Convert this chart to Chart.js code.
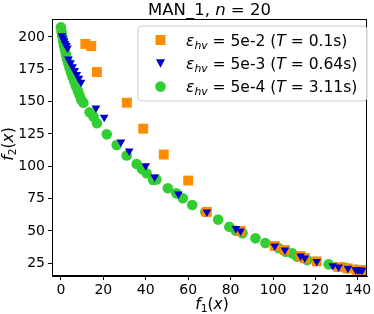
<!DOCTYPE html>
<html><head><meta charset="utf-8">
<script src="https://cdn.jsdelivr.net/npm/chart.js@4/dist/chart.umd.min.js"></script>
<style>html,body{margin:0;padding:0;background:#fff;overflow:hidden}</style>
</head><body>
<canvas id="c" width="374" height="314" style="width:374px;height:314px;display:block"></canvas>
<script>
// ---- data ----
const epsLabels = ['5e-2', '5e-3', '5e-4'];
const timeLabels = ['0.1s', '0.64s', '3.11s'];

const orangeF1 = [11.5, 14.3, 17.0, 31.1, 38.8, 48.5, 60.0, 68.8, 84.7, 100.8, 105.6, 113.0, 115.0, 120.6, 130.9, 135.3, 139.5, 140.5, 141.5, 142.5];
const orangeF2 = [194.6, 193.0, 172.9, 149.2, 129.1, 109.1, 89.0, 64.7, 50.0, 38.4, 35.3, 30.6, 29.1, 26.5, 22.1, 21.1, 20.0, 19.9, 19.8, 19.7];

const blueF1 = [0.5, 1.0, 1.5, 2.0, 2.6, 3.1, 3.5, 4.5, 5.5, 6.5, 7.5, 8.5, 9.5, 16.5, 20.4, 28.3, 32.2, 40.0, 44.2, 55.4, 68.8, 82.5, 84.7, 100.8, 105.6, 113.0, 115.0, 120.6, 128.2, 130.9, 135.3, 139.0, 140.0, 141.0, 142.0];
const blueF2 = [201, 199, 197, 195, 193.5, 191.5, 183, 180, 177, 174, 171, 168, 165, 145.1, 137.9, 118.8, 111.8, 100.5, 91.7, 78.6, 64.7, 51.9, 50.0, 38.4, 35.3, 30.6, 29.1, 26.5, 23.1, 22.1, 21.1, 20.0, 19.9, 19.8, 19.7];

const greenF1 = [0.0, 0.3, 0.6, 1.0, 1.4, 1.9, 2.4, 2.9, 3.5, 4.1, 4.8, 5.5, 6.3, 7.1, 8.0, 8.8, 9.6, 10.6, 13.5, 15.4, 17.0, 21.6, 26.3, 31.0, 35.7, 38.2, 40.4, 43.5, 45.0, 50.4, 54.4, 57.5, 61.9, 68.1, 74.1, 79.4, 82.5, 85.6, 91.7, 96.4, 102.8, 106.0, 109.0, 111.4, 114.5, 116.1, 126.2, 133.3, 134.8, 139.1, 143.1];
const greenF2 = [207.5, 204, 200.5, 197, 193.5, 190, 186.5, 183, 179.5, 176, 172.5, 169, 165.5, 162, 158.5, 155, 151.5, 149.2, 141.8, 138.4, 133.3, 124.7, 116.5, 108.4, 101.8, 97.9, 94.6, 89.4, 89.9, 83.0, 79.1, 75.3, 70.1, 64.7, 58.8, 53.3, 50.2, 48.2, 44.3, 40.7, 36.6, 34.0, 32.7, 30.1, 28.9, 27.5, 24.2, 21.9, 21.1, 20.1, 19.8];

const xTicks = [0, 20, 40, 60, 80, 100, 120, 140];
const yTicks = [25, 50, 75, 100, 125, 150, 175, 200];

const toXY = (a, b) => a.map((v, i) => ({x: v, y: b[i]}));

const COL_OR = '#ff8c00', COL_BL = '#0000cd', COL_GR = '#32cd32';
const FONT = "'DejaVu Sans', 'Liberation Sans', sans-serif";

function drawRich(ctx, parts, x, y, size, align) {
  const fontOf = p => (p.i ? 'italic ' : '') + (size * (p.s || 1)) + 'px ' + FONT;
  let total = 0;
  const widths = parts.map(p => { ctx.font = fontOf(p); const w = ctx.measureText(p.t).width; total += w; return w; });
  let cx = align === 'center' ? x - total / 2 : x;
  ctx.textAlign = 'left';
  ctx.textBaseline = 'alphabetic';
  parts.forEach((p, k) => { ctx.font = fontOf(p); ctx.fillText(p.t, cx, y + (p.dy || 0)); cx += widths[k]; });
}

function marker(ctx, style, x, y) {
  ctx.beginPath();
  if (style === 'rect') { ctx.fillStyle = COL_OR; ctx.rect(x - 5, y - 5, 10, 10); }
  else if (style === 'tri') { ctx.fillStyle = COL_BL; ctx.moveTo(x - 4.5, y - 4); ctx.lineTo(x + 4.5, y - 4); ctx.lineTo(x, y + 4.5); ctx.closePath(); }
  else { ctx.fillStyle = COL_GR; ctx.arc(x, y, 5.3, 0, Math.PI * 2); }
  ctx.fill();
}

const decor = {
  id: 'decor',
  afterDraw(chart) {
    const ctx = chart.ctx, a = chart.chartArea;
    ctx.save();
    // frame
    ctx.strokeStyle = '#000'; ctx.lineWidth = 1;
    ctx.strokeRect(Math.round(a.left) + 0.5, Math.round(a.top) + 0.5, Math.round(a.right - a.left) - 1, Math.round(a.bottom - a.top) - 1);
    ctx.fillStyle = '#000';
    // title
    drawRich(ctx, [{t: 'MAN_1, '}, {t: 'n', i: true}, {t: ' = 20'}], (a.left + a.right) / 2, 15, 16.5, 'center');
    // x label
    drawRich(ctx, [{t: 'f', i: true}, {t: '1', s: 0.7, dy: 3}, {t: '('}, {t: 'x', i: true}, {t: ')'}], 212, 309, 15.5, 'center');
    // y label
    ctx.save(); ctx.translate(13, 144); ctx.rotate(-Math.PI / 2);
    drawRich(ctx, [{t: 'f', i: true}, {t: '2', s: 0.7, dy: 3}, {t: '('}, {t: 'x', i: true}, {t: ')'}], 0, 0, 15.5, 'center');
    ctx.restore();
    // legend
    const lx = 138, ly = 26, lw = 229, lh = 75, r = 4;
    ctx.beginPath();
    ctx.moveTo(lx + r, ly); ctx.lineTo(lx + lw - r, ly); ctx.quadraticCurveTo(lx + lw, ly, lx + lw, ly + r);
    ctx.lineTo(lx + lw, ly + lh - r); ctx.quadraticCurveTo(lx + lw, ly + lh, lx + lw - r, ly + lh);
    ctx.lineTo(lx + r, ly + lh); ctx.quadraticCurveTo(lx, ly + lh, lx, ly + lh - r);
    ctx.lineTo(lx, ly + r); ctx.quadraticCurveTo(lx, ly, lx + r, ly); ctx.closePath();
    ctx.fillStyle = 'rgba(255,255,255,0.8)'; ctx.fill();
    ctx.strokeStyle = '#cccccc'; ctx.lineWidth = 1; ctx.stroke();
    const styles = ['rect', 'tri', 'circ'];
    for (let k = 0; k < 3; k++) {
      const cy = 40 + k * 23.3;
      marker(ctx, styles[k], 160.5, cy);
      ctx.fillStyle = '#000';
      drawRich(ctx, [{t: 'ε', i: true}, {t: 'hv', i: true, s: 0.7, dy: 3}, {t: ' = ' + epsLabels[k] + ' ('}, {t: 'T', i: true}, {t: ' = ' + timeLabels[k] + ')'}], 186, cy + 5.5, 15.5, 'left');
    }
    ctx.restore();
  }
};

new Chart(document.getElementById('c'), {
  type: 'scatter',
  data: {
    datasets: [
      {label: '5e-2', data: toXY(orangeF1, orangeF2), pointStyle: 'rect', pointRadius: 7, backgroundColor: COL_OR, borderWidth: 0, order: 1},
      {label: '5e-3', data: toXY(blueF1, blueF2), pointStyle: 'triangle', rotation: 180, pointRotation: 180, pointRadius: 5, backgroundColor: COL_BL, borderWidth: 0, order: 0},
      {label: '5e-4', data: toXY(greenF1, greenF2), pointStyle: 'circle', pointRadius: 5.3, backgroundColor: COL_GR, borderWidth: 0, order: 2}
    ]
  },
  options: {
    responsive: false, animation: false, devicePixelRatio: 1,
    layout: {padding: {left: 0, top: 19, right: 4, bottom: 0}},
    plugins: {legend: {display: false}, tooltip: {enabled: false}, title: {display: false}},
    scales: {
      x: {
        type: 'linear', min: -4.2, max: 144.3,
        afterFit: s => { s.height = 38; },
        afterBuildTicks: s => { s.ticks = xTicks.map(v => ({value: v})); },
        grid: {drawOnChartArea: false, drawTicks: true, tickLength: 4, color: '#000', tickColor: '#000'},
        border: {display: true, color: '#000'},
        ticks: {color: '#000', padding: 2, maxRotation: 0, autoSkip: false, font: {family: FONT, size: 14}}
      },
      y: {
        type: 'linear', min: 15.2, max: 213.9,
        afterFit: s => { s.width = 52; },
        afterBuildTicks: s => { s.ticks = yTicks.map(v => ({value: v})); },
        grid: {drawOnChartArea: false, drawTicks: true, tickLength: 4, color: '#000', tickColor: '#000'},
        border: {display: true, color: '#000'},
        ticks: {color: '#000', padding: 3, autoSkip: false, font: {family: FONT, size: 14}}
      }
    }
  },
  plugins: [decor]
});
</script>
</body></html>
